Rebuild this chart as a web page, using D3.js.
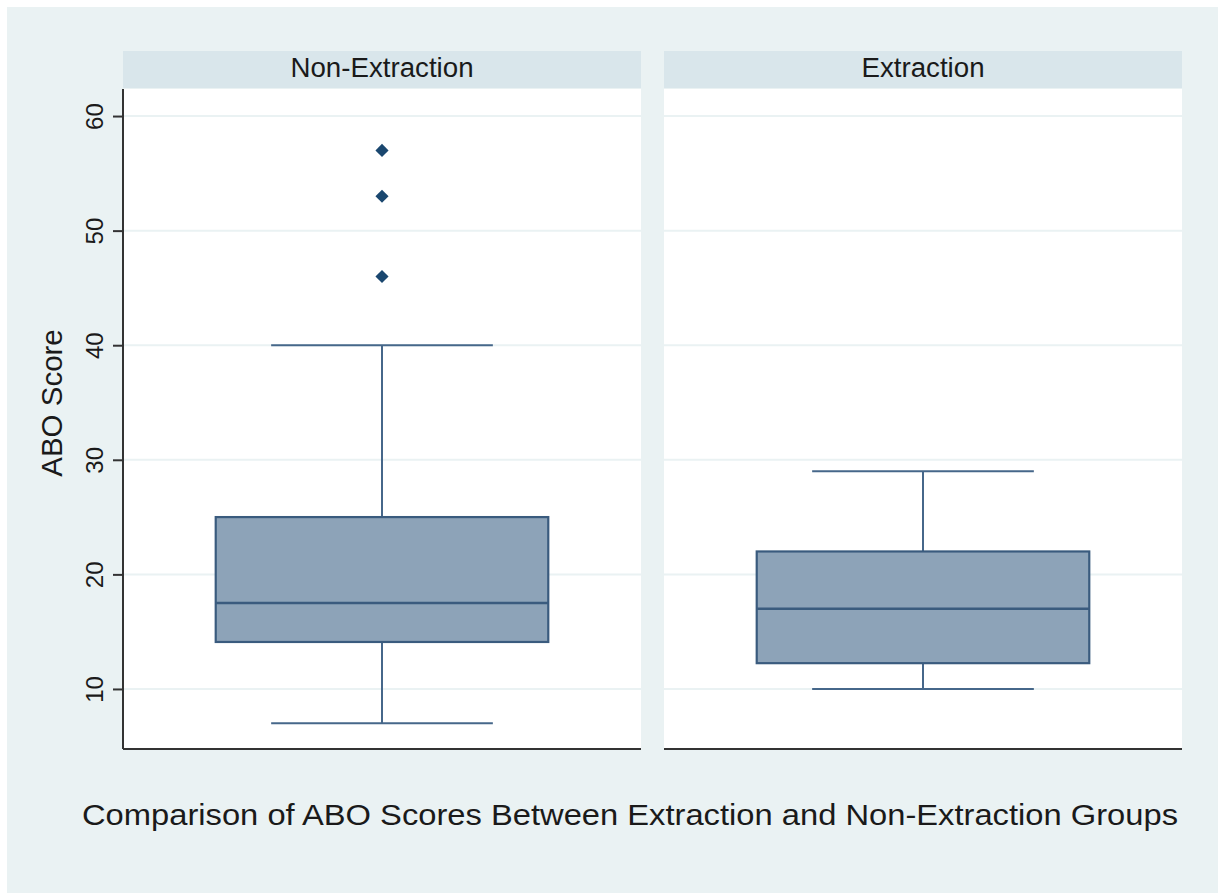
<!DOCTYPE html>
<html>
<head>
<meta charset="utf-8">
<script src="https://cdn.jsdelivr.net/npm/d3@7"></script>
<style>
  html, body { margin: 0; padding: 0; background: #ffffff; }
  svg { display: block; }
  text { font-family: Arial, "Liberation Sans", sans-serif; fill: #1a1a1a; }
</style>
</head>
<body>
<svg id="chart" width="1218" height="893"></svg>
<script>
// ABO score summary per treatment group (box plot statistics)
const groups       = ["Non-Extraction", "Extraction"];
const whiskerLow   = [7, 10];
const quartile1    = [14.1, 12.25];
const medians      = [17.5, 17];
const quartile3    = [25, 22];
const whiskerHigh  = [40, 29];
const outliers     = [[57, 53, 46], []];
const yTicks       = [10, 20, 30, 40, 50, 60];
const yTitle       = "ABO Score";
const chartTitle   = "Comparison of ABO Scores Between Extraction and Non-Extraction Groups";

const rows = groups.map((g, i) => ({
  group: g, lo: whiskerLow[i], q1: quartile1[i], med: medians[i],
  q3: quartile3[i], hi: whiskerHigh[i], out: outliers[i]
}));

const svg = d3.select("#chart");
const W = 1218, H = 893;

const plot = { left: 123, right: 1182, top: 89, bottom: 749 };
const stripH = 38;

const colors = {
  outer: "#eaf2f3",
  strip: "#d9e6eb",
  grid: "#eaf2f3",
  axis: "#333333",
  boxFill: "#8da3b8",
  boxStroke: "#3a5b7e",
  whisker: "#46678a",
  marker: "#1a476f"
};

// Outer background
svg.append("rect")
  .attr("x", 7).attr("y", 7)
  .attr("width", W - 7).attr("height", H - 7)
  .attr("fill", colors.outer);

// Facet positions
const fx = d3.scaleBand()
  .domain(groups)
  .range([plot.left, plot.right])
  .paddingInner(0.0425)
  .paddingOuter(0);

const y = d3.scaleLinear()
  .domain([4.76, 62.36])
  .range([plot.bottom, plot.top]);

const bw = fx.bandwidth();
const boxW = bw * 0.642;
const capW = bw * 0.428;

rows.forEach((d, i) => {
  const x0 = fx(d.group);
  const cx = x0 + bw / 2;
  const panel = svg.append("g");

  // strip header
  panel.append("rect")
    .attr("x", x0).attr("y", plot.top - stripH)
    .attr("width", bw).attr("height", stripH - 1)
    .attr("fill", colors.strip);
  panel.append("text")
    .attr("x", cx).attr("y", plot.top - 12)
    .attr("text-anchor", "middle")
    .attr("font-size", 27.7)
    .text(d.group);

  // plot region
  panel.append("rect")
    .attr("x", x0).attr("y", plot.top)
    .attr("width", bw).attr("height", plot.bottom - plot.top)
    .attr("fill", "#ffffff");

  // gridlines
  panel.selectAll("line.grid")
    .data(yTicks)
    .join("line")
    .attr("class", "grid")
    .attr("x1", x0).attr("x2", x0 + bw)
    .attr("y1", t => y(t)).attr("y2", t => y(t))
    .attr("stroke", colors.grid)
    .attr("stroke-width", 2);

  // whiskers
  panel.append("line")
    .attr("x1", cx).attr("x2", cx)
    .attr("y1", y(d.hi)).attr("y2", y(d.q3))
    .attr("stroke", colors.whisker).attr("stroke-width", 2);
  panel.append("line")
    .attr("x1", cx).attr("x2", cx)
    .attr("y1", y(d.q1)).attr("y2", y(d.lo))
    .attr("stroke", colors.whisker).attr("stroke-width", 2);
  [d.hi, d.lo].forEach(v => {
    panel.append("line")
      .attr("x1", cx - capW / 2).attr("x2", cx + capW / 2)
      .attr("y1", y(v)).attr("y2", y(v))
      .attr("stroke", colors.whisker).attr("stroke-width", 2);
  });

  // box
  panel.append("rect")
    .attr("x", cx - boxW / 2).attr("y", y(d.q3))
    .attr("width", boxW).attr("height", y(d.q1) - y(d.q3))
    .attr("fill", colors.boxFill)
    .attr("stroke", colors.boxStroke)
    .attr("stroke-width", 2.2);
  panel.append("line")
    .attr("x1", cx - boxW / 2).attr("x2", cx + boxW / 2)
    .attr("y1", y(d.med)).attr("y2", y(d.med))
    .attr("stroke", colors.boxStroke).attr("stroke-width", 2.5);

  // outside values
  panel.selectAll("path.out")
    .data(d.out)
    .join("path")
    .attr("class", "out")
    .attr("transform", v => `translate(${cx},${y(v)})`)
    .attr("d", d3.symbol(d3.symbolDiamond2, 110)())
    .attr("fill", colors.marker);

  // bottom axis line
  panel.append("line")
    .attr("x1", x0).attr("x2", x0 + bw)
    .attr("y1", plot.bottom).attr("y2", plot.bottom)
    .attr("stroke", colors.axis).attr("stroke-width", 2);
});

// Left y axis
const yAxis = d3.axisLeft(y).tickValues(yTicks).tickSize(10).tickPadding(10).tickSizeOuter(0);
const gy = svg.append("g")
  .attr("transform", `translate(${plot.left},0)`)
  .call(yAxis);
gy.select(".domain")
  .attr("d", `M0,${plot.top}V${plot.bottom}`)
  .attr("stroke", colors.axis).attr("stroke-width", 2);
gy.selectAll(".tick line").attr("stroke", colors.axis).attr("stroke-width", 2);
gy.selectAll(".tick text")
  .attr("font-size", 24)
  .attr("fill", "#1a1a1a")
  .attr("text-anchor", "middle")
  .attr("dy", 0)
  .attr("x", 0)
  .attr("transform", "translate(-20,0) rotate(-90)");

// Y axis title
svg.append("text")
  .attr("transform", `translate(62,403) rotate(-90)`)
  .attr("text-anchor", "middle")
  .attr("font-size", 29.5)
  .text(yTitle);

// Chart title below panels
svg.append("text")
  .attr("x", 630).attr("y", 825)
  .attr("text-anchor", "middle")
  .attr("font-size", 30)
  .attr("textLength", 1096)
  .attr("lengthAdjust", "spacingAndGlyphs")
  .text(chartTitle);
</script>
</body>
</html>
